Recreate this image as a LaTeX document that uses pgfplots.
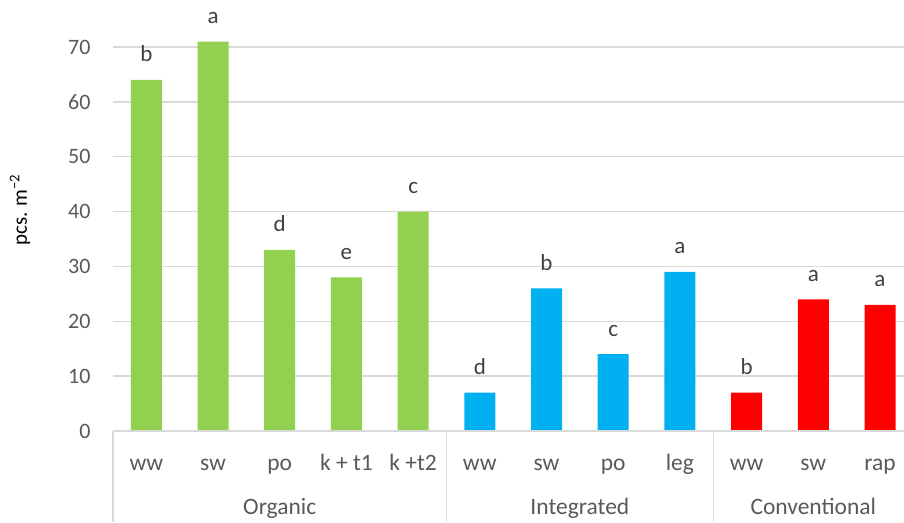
\documentclass[border=0pt]{standalone}
\usepackage{fontspec}
\setmainfont{Carlito}
\usepackage{pgfplots}
\usepackage{pgfplotstable}
\pgfplotsset{compat=1.18}
\definecolor{cgreen}{HTML}{92D050}
\definecolor{cblue}{HTML}{00B0F0}
\definecolor{cred}{HTML}{FF0000}
\definecolor{gridc}{HTML}{D9D9D9}
\definecolor{txt}{HTML}{595959}
\definecolor{lab}{HTML}{404040}

\pgfplotstableread{
x y l
0 64 b
1 71 a
2 33 d
3 28 e
4 40 c
}\org
\pgfplotstableread{
x y l
5 7 d
6 26 b
7 14 c
8 29 a
}\integ
\pgfplotstableread{
x y l
9 7 b
10 24 a
11 23 a
}\conv

\begin{document}
\fontsize{22}{26}\selectfont
\begin{tikzpicture}[x=1pt,y=1pt]
\useasboundingbox (0,0) rectangle (904,522);
\begin{axis}[
  at={(113pt,91pt)}, anchor=south west,
  scale only axis, width=791pt, height=384pt,
  xmin=-0.5, xmax=11.36, ymin=0, ymax=70,
  clip=false,
  ybar, bar width=31pt,
  axis line style={draw=none},
  major tick length=0pt,
  ytick={0,10,...,70},
  ymajorgrids,
  major grid style={draw=gridc, line width=1.3pt},
  xtick={0,...,11},
  xticklabels={ww,sw,po,k + t1,k +t2,ww,sw,po,leg,ww,sw,rap},
  xticklabel style={anchor=base, yshift=-39pt, text=txt, font=\fontsize{23.5}{26}\selectfont},
  yticklabel style={text=txt, xshift=-15pt},
  /pgf/number format/assume math mode=true,
  nodes near coords,
  point meta=explicit symbolic,
  every node near coord/.append style={anchor=base, inner sep=0pt, yshift=18pt, text=lab, font=\fontsize{23}{26}\selectfont},
]
\addplot[fill=cgreen, draw=none, bar shift=0pt] table[x=x,y=y,meta=l]{\org};
\addplot[fill=cblue, draw=none, bar shift=0pt] table[x=x,y=y,meta=l]{\integ};
\addplot[fill=cred, draw=none, bar shift=0pt] table[x=x,y=y,meta=l]{\conv};
\draw[gridc, line width=1.3pt] (axis cs:-0.5,0) -- (axis cs:11.36,0);
\draw[gridc, line width=1.3pt] (axis cs:-0.5,0) -- ([yshift=-91pt]axis cs:-0.5,0);
\draw[gridc, line width=1.3pt] (axis cs:4.5,0) -- ([yshift=-91pt]axis cs:4.5,0);
\draw[gridc, line width=1.3pt] (axis cs:8.5,0) -- ([yshift=-91pt]axis cs:8.5,0);
\node[anchor=base, text=txt, font=\fontsize{23.5}{26}\selectfont] at ([yshift=-83pt]axis cs:2,0) {Organic};
\node[anchor=base, text=txt, font=\fontsize{23.5}{26}\selectfont] at ([yshift=-83pt]axis cs:6.5,0) {Integrated};
\node[anchor=base, text=txt, font=\fontsize{23.5}{26}\selectfont] at ([yshift=-83pt]axis cs:10,0) {Conventional};
\end{axis}
\node[rotate=90, anchor=center, font=\fontsize{21}{24}\selectfont] at (20,312) {pcs. m\textsuperscript{−2}};
\end{tikzpicture}
\end{document}
